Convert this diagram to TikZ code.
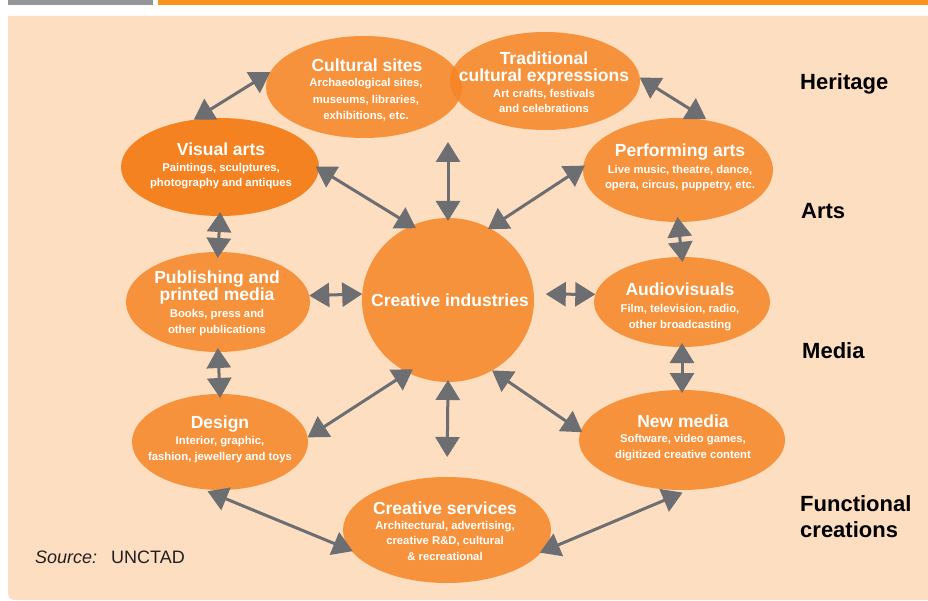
\documentclass[tikz,border=0pt]{standalone}
\usepackage{fontspec}
\setmainfont{Liberation Sans}
\usetikzlibrary{arrows.meta,shapes.geometric}
\definecolor{peach}{RGB}{253,222,192}
\definecolor{orng}{RGB}{247,146,60}
\definecolor{orngT}{RGB}{246,133,37}
\definecolor{orngD}{RGB}{245,130,32}
\definecolor{arrowgray}{RGB}{109,110,113}
\definecolor{bargray}{RGB}{147,149,152}
\definecolor{barorange}{RGB}{247,148,29}
\definecolor{srcgray}{RGB}{35,31,32}
\begin{document}
\begin{tikzpicture}[x=1pt,y=-1pt,
  blob/.style={ellipse, fill=orng, draw=none, inner sep=0pt, outer sep=0pt},
  ttl/.style={text=white, font=\fontsize{17.5}{17}\selectfont\bfseries, align=center, inner sep=0pt, anchor=base},
  sub/.style={text=white, font=\fontsize{11.3}{15.5}\selectfont\bfseries, align=center, inner sep=0pt, anchor=base},
  lbl/.style={text=black, font=\fontsize{22}{26}\selectfont\bfseries, align=left, inner sep=0pt, anchor=base west},
  link/.style={draw=arrowgray, line width=3pt, {Triangle[length=20pt,width=24pt]}-{Triangle[length=20pt,width=24pt]}},
]
\useasboundingbox (0,0) rectangle (928,601);
\fill[white] (0,0) rectangle (928,601);
% top bars
\fill[bargray] (8,0) rectangle (153,5);
\fill[barorange] (158,0) rectangle (928,5);
% panel
\fill[peach] (8,16) -- (929,16) -- (929,600) -- (22,600) .. controls (8,600) .. (8,586) -- cycle;

% ellipses
\node[blob, fill=orngT, fill opacity=0.85, minimum width=196pt, minimum height=102pt] (cs) at (364,87) {};
\node[blob, fill=orngT, fill opacity=0.85, minimum width=190pt, minimum height=98pt] (tr) at (545,81) {};
\node[blob, fill=orngD, minimum width=198pt, minimum height=98pt] (va) at (220,167) {};
\node[blob, minimum width=190pt, minimum height=104pt] (pa) at (678,170) {};
\node[blob, minimum width=172pt, minimum height=164pt] (ci) at (448,300) {};
\node[blob, minimum width=184pt, minimum height=100pt] (pub) at (218,302) {};
\node[blob, minimum width=176pt, minimum height=90pt] (av) at (682,302) {};
\node[blob, minimum width=176pt, minimum height=96pt] (des) at (220,442) {};
\node[blob, minimum width=206pt, minimum height=100pt] (nm) at (682,440) {};
\node[blob, minimum width=208pt, minimum height=106pt] (csv) at (447,530) {};
\coordinate (hub) at (448,142);

% texts (anchor=base of a multi-line node = baseline of its last line)
\node[ttl] (cs-t) at (367,72) {Cultural sites};
\node[sub, font=\fontsize{11.3}{16.5}\selectfont\bfseries] (cs-s) at (366,120) {Archaeological sites,\\museums, libraries,\\exhibitions, etc.};
\node[ttl] (tr-t) at (544,82) {Traditional\\cultural expressions};
\node[sub] (tr-s) at (544,113) {Art crafts, festivals\\and celebrations};
\node[ttl] (va-t) at (221,156) {Visual arts};
\node[sub] (va-s) at (221,187) {Paintings, sculptures,\\photography and antiques};
\node[ttl] (pa-t) at (680,157) {Performing arts};
\node[sub] (pa-s) at (680,189) {Live music, theatre, dance,\\opera, circus, puppetry, etc.};
\node[ttl] (ci-t) at (450,306) {Creative industries};
\node[ttl] (pub-t) at (217,301) {Publishing and\\printed media};
\node[sub] (pub-s) at (217,333) {Books, press and\\other publications};
\node[ttl] (av-t) at (680,295) {Audiovisuals};
\node[sub] (av-s) at (680,328) {Film, television, radio,\\other broadcasting};
\node[ttl] (des-t) at (220,428) {Design};
\node[sub] (des-s) at (220,460) {Interior, graphic,\\fashion, jewellery and toys};
\node[ttl] (nm-t) at (683,427) {New media};
\node[sub] (nm-s) at (683,458) {Software, video games,\\digitized creative content};
\node[ttl] (csv-t) at (445,514) {Creative services};
\node[sub] (csv-s) at (445,560) {Architectural, advertising,\\creative R\&D, cultural\\\& recreational};

% side labels
\node[lbl] (l-her) at (800,90) {Heritage};
\node[lbl] (l-art) at (801,219) {Arts};
\node[lbl] (l-med) at (802,358) {Media};
\node[lbl] (l-fun) at (800,537) {Functional\\creations};

% source
\node[anchor=base west, inner sep=0pt, text=srcgray, font=\fontsize{18}{20}\selectfont] (src) at (35,563) {\itshape Source:\upshape\hspace{14pt}UNCTAD};

% connectors
\draw[link] (va.119) -- (cs.171);
\draw[link, shorten >=3pt] (tr.2) -- (pa.58);
\draw[link, shorten <=-4pt, shorten >=-6pt] (va.south) -- (pub.north);
\draw[link, shorten <=-4pt, shorten >=-4pt] (pub.south) -- (des.north);
\draw[link, shorten <=-5pt, shorten >=-5pt] (pa.south) -- (av.north);
\draw[link, shorten <=-4pt, shorten >=-3pt] (av.south) -- (nm.north);
\draw[link, shorten <=-4pt, shorten >=-5pt] (va.-1) -- (ci.116);
\draw[link, shorten >=-3pt] (hub) -- (ci.north);
\draw[link, shorten <=-2pt, shorten >=-2pt] (pa.178) -- (ci.60);
\draw[link] (pub.4) -- (ci.176);
\draw[link, shorten <=12pt] (ci.4) -- (av.175);
\draw[link, shorten >=-6pt] (des.3) -- (ci.241);
\draw[link, shorten >=-2pt] (ci.302) -- (nm.175);
\draw[link, shorten <=-2pt, shorten >=20pt] (ci.south) -- (csv.north);
\draw[link, shorten <=6pt, shorten >=-2pt] (des.249) -- (csv.192);
\draw[link, shorten <=-2pt, shorten >=7pt] (csv.-13) -- (nm.278);
\end{tikzpicture}
\end{document}
